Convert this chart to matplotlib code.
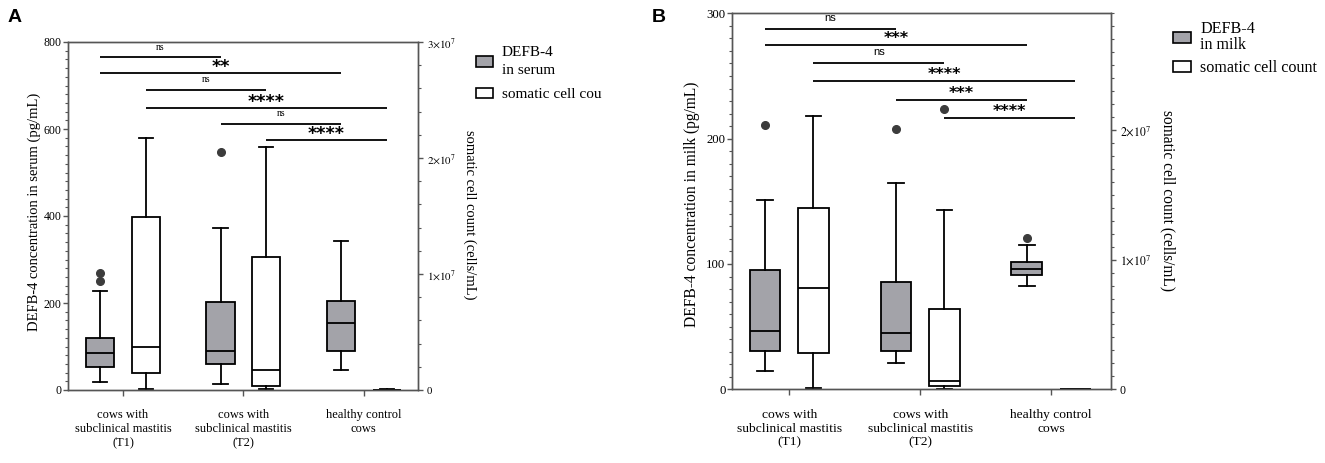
import matplotlib
matplotlib.use("Agg")
import matplotlib.pyplot as plt
from matplotlib.patches import Patch
from matplotlib.ticker import MultipleLocator, FixedLocator, FuncFormatter
from matplotlib.transforms import Bbox, TransformedBbox

plt.rcParams["font.family"] = ["Liberation Serif", "DejaVu Serif"]
plt.rcParams["mathtext.fontset"] = "stix"

# groups on the x axis
groups = ["cows with\nsubclinical mastitis\n(T1)",
          "cows with\nsubclinical mastitis\n(T2)",
          "healthy control\ncows"]
xpos = [1, 2, 3]

# panel A: DEFB-4 in serum (pg/mL), five-number summaries + outliers
serum_lo = [19, 14, 47]
serum_q1 = [53, 59, 90]
serum_med = [85, 89, 153]
serum_q3 = [120, 202, 205]
serum_hi = [228, 372, 343]
serum_out = [[250, 270], [548], []]

# panel A: somatic cell count (cells/mL)
scc_a_lo = [1.0e5, 8.0e4, 1.0e4]
scc_a_q1 = [1.49e6, 3.7e5, 2.0e4]
scc_a_med = [3.73e6, 1.70e6, 3.0e4]
scc_a_q3 = [1.494e7, 1.144e7, 4.0e4]
scc_a_hi = [2.175e7, 2.092e7, 6.0e4]
scc_a_out = [[], [], []]

# panel B: DEFB-4 in milk (pg/mL)
milk_lo = [14.4, 21, 82.7]
milk_q1 = [30.8, 30.8, 91]
milk_med = [46.8, 45.2, 96.2]
milk_q3 = [95, 85.9, 101.3]
milk_hi = [151, 164.6, 114.9]
milk_out = [[211], [207.7], [120.5]]

# panel B: somatic cell count (cells/mL)
scc_b_lo = [1.2e5, 2.0e4, 1.0e4]
scc_b_q1 = [2.78e6, 2.8e5, 2.0e4]
scc_b_med = [7.81e6, 6.4e5, 3.0e4]
scc_b_q3 = [1.398e7, 6.2e6, 4.0e4]
scc_b_hi = [2.11e7, 1.385e7, 6.0e4]
scc_b_out = [[], [2.16e7], []]

# significance brackets: (start box, end box, height on left axis, label)
# g = DEFB-4 box, w = somatic cell count box, number = group
sig_a = [("g1", "g2", 765, "ns"), ("g1", "g3", 729, "**"),
         ("w1", "w2", 690, "ns"), ("w1", "w3", 649, "****"),
         ("g2", "g3", 612, "ns"), ("w2", "w3", 575, "****")]
sig_b = [("g1", "g2", 287.5, "ns"), ("g1", "g3", 274.7, "***"),
         ("w1", "w2", 260.4, "ns"), ("w1", "w3", 246, "****"),
         ("g2", "g3", 231.1, "***"), ("w2", "w3", 216.5, "****")]

GRAY = "#a3a3a9"
SPINE = "#555555"
W, H = 1325, 463
OFF, BW = 0.19, 0.235


def stats(lo, q1, med, q3, hi, out):
    return [dict(whislo=a, q1=b, med=c, q3=d, whishi=e, fliers=f)
            for a, b, c, d, e, f in zip(lo, q1, med, q3, hi, out)]


def draw_boxes(ax, st, pos, fc):
    lw = 1.3
    ax.bxp(st, positions=pos, widths=BW, patch_artist=True, manage_ticks=False,
           capwidths=BW * 0.5,
           boxprops=dict(facecolor=fc, edgecolor="black", linewidth=lw),
           medianprops=dict(color="black", linewidth=lw),
           whiskerprops=dict(color="black", linewidth=lw),
           capprops=dict(color="black", linewidth=lw),
           flierprops=dict(marker="o", markerfacecolor="#3c3c3c",
                           markeredgecolor="#3c3c3c", markersize=5.5))


def style_axis(ax):
    for s in ax.spines.values():
        s.set_color(SPINE)
        s.set_linewidth(1.0)
    ax.tick_params(which="both", colors=SPINE, labelcolor="black", direction="out")
    ax.tick_params(which="major", length=3.5, width=1.0)
    ax.tick_params(which="minor", length=2, width=0.8)


def panel(rect, box_l, box_r, sig, ylim_l, ymaj, ymin, ylim_r, rmaj, rmin,
          off, xlim, lab_l, lab_r, fs, sig_font, sig_fs, star_fs, gap):
    ax = fig.add_axes(rect)
    ax2 = ax.twinx()
    ax.set_zorder(ax2.get_zorder() + 1)
    ax.patch.set_visible(False)

    gpos = [x - off for x in xpos]
    wpos = [x + off for x in xpos]
    draw_boxes(ax, box_l, gpos, GRAY)
    draw_boxes(ax2, box_r, wpos, "white")

    ax.set_xlim(*xlim)
    ax.set_ylim(0, ylim_l)
    ax2.set_ylim(0, ylim_r)
    ax.yaxis.set_major_locator(MultipleLocator(ymaj))
    ax.yaxis.set_minor_locator(MultipleLocator(ymin))
    ax2.yaxis.set_major_locator(FixedLocator(rmaj))
    ax2.yaxis.set_minor_locator(MultipleLocator(rmin))
    ax2.yaxis.set_major_formatter(FuncFormatter(
        lambda v, p: "0" if v == 0 else r"$%d{\times}10^{7}$" % round(v / 1e7)))
    ax.set_xticks(xpos)
    ax.set_xticklabels(groups, fontsize=fs)
    for a in (ax, ax2):
        style_axis(a)
    ax.tick_params(axis="y", labelsize=fs - 0.5, pad=1)
    ax2.tick_params(axis="y", labelsize=fs - 1.2, pad=3)
    ax.tick_params(axis="x", length=4, pad=10)

    ax.set_ylabel(lab_l, fontsize=fs + 1.5)
    ax2.set_ylabel(lab_r, fontsize=fs + 1.5, rotation=270)

    where = {"g": gpos, "w": wpos}
    for a, b, y, txt in sig:
        x0 = where[a[0]][int(a[1]) - 1]
        x1 = where[b[0]][int(b[1]) - 1]
        ax.plot([x0, x1], [y, y], color="black", lw=1.3, solid_capstyle="butt")
        if txt == "ns":
            ax.annotate(txt, ((x0 + x1) / 2, y), xytext=(0, gap[0]),
                        textcoords="offset pixels", ha="center", va="center",
                        fontsize=sig_fs, family=sig_font)
        else:
            ax.annotate(txt, ((x0 + x1) / 2, y), xytext=(0, gap[1]),
                        textcoords="offset pixels", ha="center", va="center",
                        fontsize=star_fs, family="DejaVu Sans", fontweight="bold")
    return ax, ax2


def frac(l, t, r, b):
    return [l / W, (H - b) / H, (r - l) / W, (b - t) / H]


fig = plt.figure(figsize=(W / 100, H / 100), dpi=100)

# panel A
axA, axA2 = panel(frac(68, 42, 418, 390),
                  stats(serum_lo, serum_q1, serum_med, serum_q3, serum_hi, serum_out),
                  stats(scc_a_lo, scc_a_q1, scc_a_med, scc_a_q3, scc_a_hi, scc_a_out),
                  sig_a, 800, 200, 20, 3e7, [0, 1e7, 2e7, 3e7], 2e6,
                  OFF, (0.543, 3.45),
                  "DEFB-4 concentration in serum (pg/mL)",
                  "somatic cell count (cells/mL)",
                  9, ["Liberation Serif"], 7, 12.5, (10, 5.5))
axA.yaxis.set_label_coords(-0.097, 0.511)
axA.yaxis.label.set_va("center")
axA2.yaxis.set_label_coords(1.149, 0.503)
axA2.yaxis.label.set_va("center")

# panel B
axB, axB2 = panel(frac(731.7, 13.3, 1110.7, 389.3),
                  stats(milk_lo, milk_q1, milk_med, milk_q3, milk_hi, milk_out),
                  stats(scc_b_lo, scc_b_q1, scc_b_med, scc_b_q3, scc_b_hi, scc_b_out),
                  sig_b, 300, 100, 10, 2.9e7, [0, 1e7, 2e7], 1e6,
                  0.185, (0.56, 3.456),
                  "DEFB-4 concentration in milk (pg/mL)",
                  "somatic cell count (cells/mL)",
                  9.7, ["Liberation Sans"], 8, 11.5, (10.5, 6.5))
axB.yaxis.set_label_coords(-0.1055, 0.493)
axB.yaxis.label.set_va("center")
axB2.yaxis.set_label_coords(1.151, 0.503)
axB2.yaxis.label.set_va("center")


# legends
def add_legend(ax, first, anchor, fs, spacing, line_sp, clip_x=None):
    handles = [Patch(facecolor=GRAY, edgecolor="black", linewidth=1.2),
               Patch(facecolor="white", edgecolor="black", linewidth=1.2)]
    leg = ax.legend(handles, [first, "somatic cell count"], loc="upper left",
                    bbox_to_anchor=(anchor[0] / W, 1 - anchor[1] / H),
                    bbox_transform=fig.transFigure, frameon=False, fontsize=fs,
                    handlelength=1.1, handleheight=0.7, handletextpad=0.6,
                    labelspacing=spacing, borderpad=0, borderaxespad=0)
    leg.get_texts()[0].set_linespacing(line_sp)
    if clip_x is not None:
        box = TransformedBbox(Bbox([[0, 0], [clip_x / W, 1]]), fig.transFigure)
        for t in leg.get_texts():
            t.set_clip_box(box)
            t.set_clip_on(True)
    return leg


add_legend(axA, "DEFB-4\nin serum", (476, 46.5), 11, 0.7, 1.45, clip_x=602)
add_legend(axB, "DEFB-4\nin milk", (1173, 21), 11.6, 0.45, 1.0)

fig.text(8 / W, 1 - 9 / H, "A", fontsize=14, fontweight="bold",
         family="Liberation Sans", va="top")
fig.text(651.7 / W, 1 - 9 / H, "B", fontsize=14, fontweight="bold",
         family="Liberation Sans", va="top")

fig.savefig("out.png", dpi=100)
